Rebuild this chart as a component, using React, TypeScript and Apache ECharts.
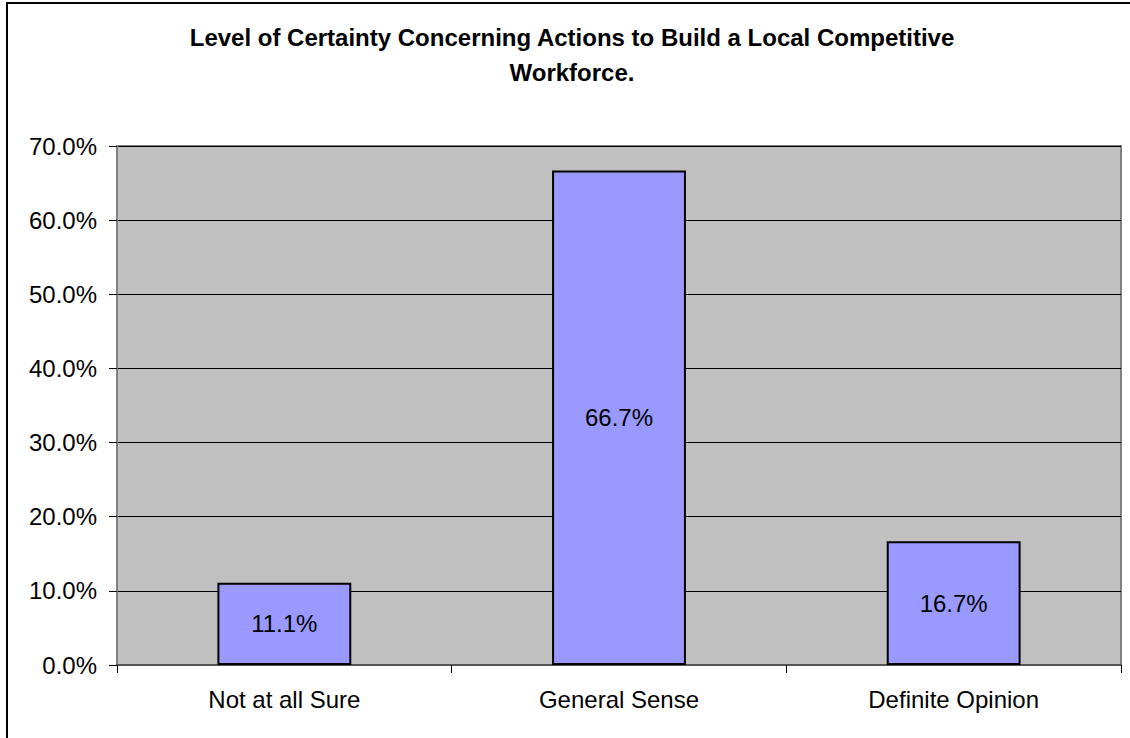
import React, { useEffect, useRef } from "react";
import * as echarts from "echarts";

const titleText = "Level of Certainty Concerning Actions to Build a Local Competitive\nWorkforce.";
const categories = ["Not at all Sure", "General Sense", "Definite Opinion"];
const values = [11.1, 66.7, 16.7];
const yMin = 0;
const yMax = 70;
const yStep = 10;

const FONT = "'Liberation Sans', Arial, sans-serif";

export default function App() {
  const ref = useRef<HTMLDivElement>(null);
  useEffect(() => {
    if (!ref.current) return;
    const chart = echarts.init(ref.current, undefined, { renderer: "svg" });
    chart.setOption({
      animation: false,
      backgroundColor: "#ffffff",
      textStyle: { fontFamily: FONT },
      title: {
        text: titleText,
        left: 567,
        textAlign: "center",
        top: 15,
        textStyle: {
          fontFamily: FONT,
          fontSize: 24,
          fontWeight: "bold",
          color: "#000",
          lineHeight: 35,
        },
      },
      graphic: [
        {
          type: "rect",
          shape: { x: 7, y: 3, width: 1140, height: 760 },
          style: { fill: "none", stroke: "#000", lineWidth: 2 },
          silent: true,
          z: 100,
        },
      ],
      grid: {
        left: 117,
        top: 146,
        right: 9,
        bottom: 73,
        show: true,
        backgroundColor: "#C0C0C0",
        borderColor: "#808080",
        borderWidth: 2,
      },
      xAxis: {
        type: "category",
        data: categories,
        axisLine: { show: true, lineStyle: { color: "#555555", width: 2 } },
        axisTick: { show: true, length: 8, lineStyle: { color: "#000", width: 1 } },
        axisLabel: {
          margin: 22,
          fontFamily: FONT,
          fontSize: 24,
          color: "#000",
        },
      },
      yAxis: {
        type: "value",
        min: yMin,
        max: yMax,
        interval: yStep,
        axisLine: { show: true, lineStyle: { color: "#808080", width: 2 } },
        axisTick: { show: true, length: 8, lineStyle: { color: "#000", width: 1 } },
        splitLine: { show: true, lineStyle: { color: "#000", width: 1 } },
        axisLabel: {
          margin: 20,
          fontFamily: FONT,
          fontSize: 24,
          color: "#000",
          formatter: (v: number) => v.toFixed(1) + "%",
        },
      },
      series: [
        {
          type: "bar",
          data: values,
          barWidth: "40%",
          itemStyle: { color: "#9999FF", borderColor: "#000", borderWidth: 2 },
          label: {
            show: true,
            position: "inside",
            fontFamily: FONT,
            fontSize: 24,
            color: "#000",
            formatter: (p: any) => Number(p.value).toFixed(1) + "%",
          },
        },
      ],
    });
    return () => chart.dispose();
  }, []);
  return (
    <div
      ref={ref}
      style={{ position: "fixed", left: 0, top: 0, width: 1130, height: 738 }}
    />
  );
}
